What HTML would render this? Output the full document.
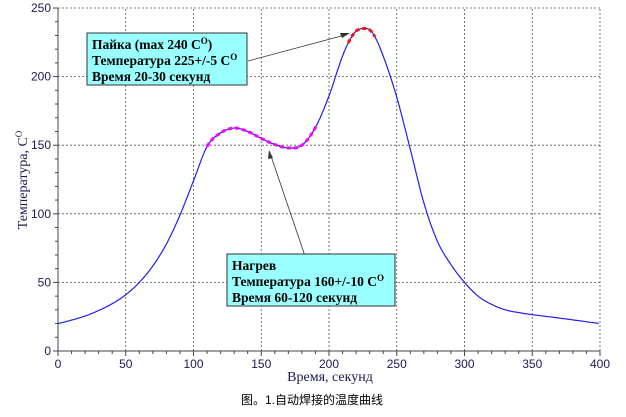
<!DOCTYPE html>
<html><head><meta charset="utf-8"><style>
body{margin:0;background:#fff;width:626px;height:417px;overflow:hidden}
svg{display:block}
.t{font-family:"Liberation Sans",sans-serif;font-size:12px;fill:#1a1a50}
.b{font-family:"Liberation Serif",serif;font-weight:bold;font-size:13.5px;fill:#000}
</style></head><body>
<svg id="s" width="626" height="417" xmlns="http://www.w3.org/2000/svg">
<g id="grid" stroke="#555" stroke-width="0.8" stroke-dasharray="2,2"></g>
<g id="ax" stroke="#444" stroke-width="1"></g>
<path id="curve" fill="none" stroke="#2020ee" stroke-width="1.2"/>
<path id="mag" fill="none" stroke="#ff00ff" stroke-width="3" stroke-dasharray="4,3"/>
<path id="red" fill="none" stroke="#ff1010" stroke-width="3" stroke-dasharray="4,3"/>
<g id="lab"></g>
<text class="t" x="330" y="381" text-anchor="middle" style="font-family:'Liberation Serif',serif;font-size:14px">Время, секунд</text>
<text class="t" transform="translate(27,180) rotate(-90)" text-anchor="middle" style="font-family:'Liberation Serif',serif;font-size:14px">Температура, C<tspan dy="-5" font-size="9">O</tspan></text>
<text x="312" y="404" text-anchor="middle" style="font-family:'Liberation Sans','Noto Sans CJK SC',sans-serif;font-size:12px;fill:#000">图。1.自动焊接的温度曲线</text>
<line x1="248" y1="61" x2="345" y2="35" stroke="#333" stroke-width="0.8"/>
<polygon points="350,33 340,33 342,38" fill="#333"/>
<line x1="305" y1="256" x2="271" y2="156" stroke="#333" stroke-width="0.8"/>
<polygon points="269,150 268,159 273,158" fill="#333"/>
<rect x="87" y="33" width="160" height="52" fill="#99ffff" stroke="#333"/>
<text class="b" x="92" y="49">Пайка (max 240 C<tspan dy="-5" font-size="9">O</tspan><tspan dy="5">)</tspan></text>
<text class="b" x="92" y="65">Температура 225+/-5 C<tspan dy="-5" font-size="9">O</tspan></text>
<text class="b" x="92" y="81">Время 20-30 секунд</text>
<rect x="227" y="254" width="168" height="52" fill="#99ffff" stroke="#333"/>
<text class="b" x="232" y="270">Нагрев</text>
<text class="b" x="232" y="286">Температура 160+/-10 C<tspan dy="-5" font-size="9">O</tspan></text>
<text class="b" x="232" y="302">Время 60-120 секунд</text>
</svg>
<script>
var X=v=>58+v*1.355,Y=v=>351-v*1.372,NS="http://www.w3.org/2000/svg";
var g=document.getElementById('grid'),ax=document.getElementById('ax'),lab=document.getElementById('lab');
function el(p,tag,a,txt){var e=document.createElementNS(NS,tag);for(var k in a)e.setAttribute(k,a[k]);if(txt!=null)e.textContent=txt;p.appendChild(e);return e}
for(var v=50;v<=400;v+=50)el(g,'line',{x1:X(v),x2:X(v),y1:Y(0),y2:Y(250)});
for(var v=50;v<=250;v+=50)el(g,'line',{x1:X(0),x2:X(400),y1:Y(v),y2:Y(v)});
el(ax,'line',{x1:X(0),x2:X(400),y1:Y(0),y2:Y(0)});
el(ax,'line',{x1:X(0),x2:X(0),y1:Y(0),y2:Y(250)});
for(var v=0;v<=400;v+=10)el(ax,'line',{x1:X(v),x2:X(v),y1:Y(0),y2:Y(0)+(v%50?3:5)});
for(var v=0;v<=250;v+=10)el(ax,'line',{x1:X(0),x2:X(0)-(v%50?3:5),y1:Y(v),y2:Y(v)});
for(var v=0;v<=400;v+=50)el(lab,'text',{class:'t',x:X(v),y:Y(0)+17,'text-anchor':'middle'},v);
for(var v=0;v<=250;v+=50)el(lab,'text',{class:'t',x:X(0)-7,y:Y(v)+4,'text-anchor':'end'},v);
var P=[[0,20],[10,22.5],[20,25.5],[30,29.5],[40,34.5],[50,41],[60,50],[70,62],[80,78],[90,99],[100,124],[110,149],[120,159],[130,162.5],[140,160],[150,155],[160,150.5],[170,148],[180,150],[190,163],[200,186],[210,215],[218,231],[225,235],[232,232],[240,215],[250,185],[260,147],[270,108],[280,80],[290,63],[300,50],[310,40],[320,34],[330,30],[340,28],[350,26.5],[370,24],[400,20]];
function path(a,b){var pts=P;var d='';for(var i=0;i<pts.length-1;i++){var p0=pts[Math.max(i-1,0)],p1=pts[i],p2=pts[i+1],p3=pts[Math.min(i+2,pts.length-1)];for(var t=0;t<=1;t+=0.05){var t2=t*t,t3=t2*t;var f=(q)=>0.5*((2*p1[q])+(-p0[q]+p2[q])*t+(2*p0[q]-5*p1[q]+4*p2[q]-p3[q])*t2+(-p0[q]+3*p1[q]-3*p2[q]+p3[q])*t3);var x=f(0),y=f(1);if(x<a||x>b)continue;d+=(d?'L':'M')+X(x).toFixed(1)+','+Y(y).toFixed(1)}}return d}
document.getElementById('curve').setAttribute('d',path(0,400));
document.getElementById('mag').setAttribute('d',path(110,191));
document.getElementById('red').setAttribute('d',path(214,234));
</script>
</body></html>
